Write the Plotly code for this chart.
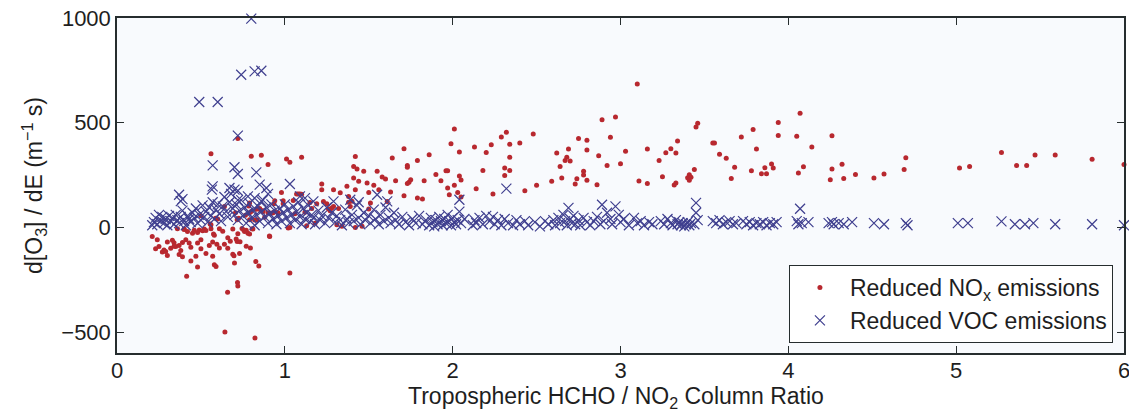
import plotly.graph_objects as go

# Reduced NOx emissions (red dots)
nox_x = [0.21,0.24,0.23,0.25,0.27,0.28,0.30,0.30,0.33,0.34,0.35,0.36,0.37,0.37,0.39,0.40,0.41,0.415,0.43,0.45,
         0.47,0.48,0.48,0.49,0.50,0.50,0.51,0.52,0.55,0.56,0.555,0.56,0.57,0.575,0.58,0.59,0.587,0.595,0.61,0.61,
         0.64,0.643,0.659,0.675,0.69,0.697,0.70,0.706,0.716,0.718,0.72,0.72,0.725,0.733,0.745,0.755,0.765,0.77,0.78,0.785,
         0.79,0.795,0.80,0.805,0.81,0.822,0.827,0.836,0.845,0.855,0.87,0.86,0.90,0.908,0.93,0.935,0.96,
         0.50,0.60,0.79,0.80,0.83,0.85,0.87,0.90,0.92,0.94,0.94,0.99,0.716,0.79,0.82,0.88,1.02,0.91,0.40,0.42,
         0.46,0.48,0.53,0.56,0.63,0.69,0.72,0.76,0.79,0.66,0.71,0.77,0.58,0.57,0.64,0.66,0.73,0.34,0.29,0.32,
         0.38,0.44,0.39,0.53,0.44,
         0.98,0.99,1.01,1.03,1.03,1.03,1.05,1.06,1.07,1.08,1.09,1.10,1.10,1.12,1.13,1.15,1.16,1.18,1.19,1.22,
         1.22,1.23,1.25,1.27,1.28,1.29,1.29,1.31,1.32,1.33,1.34,1.26,1.37,1.38,1.38,1.39,1.40,1.41,1.42,1.43,
         1.41,1.42,1.42,1.44,1.46,1.47,1.49,1.50,1.51,1.50,1.53,1.55,1.56,1.58,1.60,1.63,1.61,1.64,1.66,1.71,
         1.71,1.73,1.73,1.74,1.75,1.73,1.79,1.79,1.82,1.83,1.86,1.90,1.93,1.96,1.97,1.97,1.98,1.99,2.01,2.01,
         2.03,2.04,2.04,2.05,2.05,
         2.13,2.14,2.18,2.20,2.23,2.24,2.29,2.31,2.31,2.32,2.34,2.34,2.34,2.40,2.43,2.48,2.50,2.59,2.62,2.64,
         2.65,2.67,2.68,2.69,2.70,2.73,2.74,2.75,2.78,2.78,2.80,2.80,2.80,2.86,2.87,2.89,2.92,2.94,2.97,3.00,
         3.03,3.10,3.11,3.16,3.16,3.23,3.25,3.27,3.30,3.32,3.33,3.33,3.34,3.40,3.41,3.41,3.42,3.44,3.45,3.46,
         3.55,3.56,3.59,3.63,3.66,3.68,3.72,3.78,3.79,3.81,3.84,3.86,3.87,3.90,3.91,3.94,3.94,4.05,4.06,4.07,
         4.09,4.14,4.25,4.26,4.26,4.32,4.33,4.40,4.51,4.57,4.69,4.70,5.02,5.08,5.27,5.36,5.42,5.47,5.59,5.81,
         6.00]
nox_y = [-43,-59,-102,-91,-118,-108,-134,-70,-62,-74,-91,-6,-86,-130,-72,-8,-59,-234,-75,-28,
         -138,-189,-75,-12,-59,-102,-16,-8,-86,352,16,-6,-138,-32,-178,-187,43,-80,-6,-98,
         100,-500,-310,-66,-128,-135,-170,70,-67,-263,-280,425,43,-69,-5,-13,58,-14,-28,102,
         70,-98,340,-6,-8,-528,-163,37,-184,83,80,344,300,-41,70,113,70,
         56,40,116,76,86,90,75,70,68,75,127,127,37,37,35,48,-3,-43,-10,-20,
         -14,-25,-15,13,-19,-8,-30,-20,-32,-50,-55,-90,-38,-70,-80,-100,-125,-90,-115,-100,
         -110,-95,-140,-125,-160,
         167,113,327,311,-218,-1,128,65,160,160,160,335,158,72,8,119,90,20,113,207,
         180,123,113,80,93,180,100,13,90,165,5,88,196,148,120,100,125,291,339,279,
         236,0,180,220,5,268,212,167,117,88,201,268,180,241,231,169,124,331,223,376,
         151,295,287,215,228,210,319,140,135,223,347,252,223,271,270,188,156,400,470,201,
         167,245,360,145,226,
         384,185,272,358,395,160,432,248,284,454,272,335,397,403,175,446,201,220,355,291,
         236,319,335,374,317,207,232,424,268,250,416,370,225,204,342,514,295,430,527,304,
         363,685,222,374,210,320,242,357,376,202,212,355,413,237,225,251,240,276,480,497,
         403,403,349,330,234,287,432,271,468,374,256,285,256,303,284,501,439,435,260,545,
         290,384,228,279,438,301,233,252,236,255,276,333,284,291,358,295,295,346,346,325,
         300]

# Reduced VOC emissions (blue crosses)
voc_x = [0.80,0.74,0.82,0.86,0.49,0.60,0.72,0.57,0.70,0.72,0.83,0.57,0.565,0.67,0.70,0.72,0.85,0.89,1.03,0.37,
         0.39,0.38,0.72,0.78,0.82,0.86,0.90,1.09,1.12,1.17,1.29,1.39,1.44,1.55,1.61,
         0.21,0.22,0.23,0.24,0.25,0.26,0.27,0.28,0.29,0.30,0.31,0.32,0.33,0.34,0.35,0.36,0.37,0.38,0.39,0.40,
         0.41,0.42,0.43,0.44,0.45,0.46,0.47,0.48,0.49,0.50,0.51,0.52,0.53,0.54,0.55,0.56,0.57,0.58,0.59,0.60,
         0.61,0.62,0.63,0.64,0.65,0.66,0.67,0.68,0.69,0.70,0.71,0.72,0.73,0.74,0.75,0.76,0.77,0.78,0.79,0.80,
         0.81,0.82,0.83,0.84,0.85,0.86,0.87,0.88,0.89,0.90,0.91,0.92,0.93,0.94,0.95,0.96,0.97,0.98,0.99,1.00,
         1.01,1.02,1.03,1.04,1.05,1.06,1.07,1.08,1.09,1.10,1.11,1.12,1.13,1.14,1.15,1.16,1.17,1.18,1.20,1.21,
         1.22,1.24,1.25,1.26,1.28,1.30,1.31,1.33,1.34,1.36,1.37,1.38,1.40,1.41,1.43,1.44,1.45,1.47,1.48,1.50,
         1.51,1.53,1.54,1.56,1.57,1.59,1.60,1.62,1.63,1.65,1.66,1.68,1.70,
         1.72,1.74,1.76,1.78,1.80,1.82,1.84,1.86,1.87,1.88,1.89,1.90,1.91,1.92,1.93,1.94,1.95,1.96,1.97,1.98,
         1.99,2.00,2.01,2.02,2.03,2.04,2.04,2.05,2.07,2.12,2.13,2.14,2.16,2.18,2.20,2.22,2.24,2.25,2.27,2.29,
         2.31,2.32,2.33,2.36,2.38,2.40,2.43,2.45,2.49,2.52,2.55,2.57,2.60,2.61,2.63,2.64,2.66,2.67,2.68,2.69,
         2.70,2.71,2.72,2.73,2.75,2.76,2.78,2.80,2.82,2.84,2.86,2.88,2.89,2.90,2.92,2.94,2.95,2.97,2.99,3.00,
         3.02,3.05,3.08,3.10,3.12,3.14,3.17,3.19,3.24,3.26,3.28,3.30,3.31,3.33,3.34,3.35,3.36,3.37,3.38,3.39,
         3.40,3.41,3.42,3.44,3.45,3.45,3.46,3.55,3.57,3.59,3.61,3.63,3.65,3.67,3.69,3.73,3.75,3.77,3.79,3.81,
         3.83,3.85,3.87,3.89,3.91,3.93,
         4.05,4.06,4.07,4.08,4.12,4.24,4.26,4.27,4.30,4.33,4.38,4.51,4.57,4.70,4.71,5.01,5.07,5.27,5.35,5.41,
         5.46,5.59,5.81,6.00,6.01]
voc_y = [997,729,745,748,599,599,438,296,287,255,263,196,180,188,180,175,204,188,207,156,
         135,125,130,148,140,125,160,148,140,124,124,132,120,156,124,
         10,25,45,15,60,30,50,20,40,10,55,30,45,15,60,35,20,50,80,30,
         10,55,40,25,70,45,90,20,60,35,105,50,75,25,95,55,120,40,85,110,
         65,30,100,145,75,50,120,160,90,60,110,35,80,130,55,95,20,70,115,45,
         85,10,60,100,30,75,130,50,95,20,65,110,40,80,15,55,90,30,70,110,
         45,85,20,60,100,35,75,120,50,15,90,40,70,105,25,60,45,15,80,35,
         55,20,95,45,70,25,55,35,10,85,40,20,60,30,105,45,15,70,35,55,
         20,85,40,15,60,30,95,45,20,70,35,15,50,
         25,10,40,20,55,15,35,10,45,25,5,35,15,50,30,10,40,20,60,30,
         10,45,25,15,35,75,132,20,40,10,35,20,45,15,55,30,50,15,35,10,
         40,185,20,10,35,15,30,10,25,5,30,15,35,10,45,20,60,30,10,93,
         40,20,55,15,35,10,45,25,10,30,50,15,108,30,70,40,15,100,60,25,
         40,10,45,20,30,10,25,15,30,15,40,20,10,35,15,25,10,20,5,15,
         25,10,20,15,117,70,35,30,20,35,15,25,30,15,20,30,15,25,10,20,
         15,25,10,20,15,25,
         30,15,89,20,25,20,25,15,20,15,25,20,15,20,10,20,20,29,15,15,
         20,15,15,10,15]

x_ticks = [0, 1, 2, 3, 4, 5, 6]
y_ticks = [-500, 0, 500, 1000]
x_title = "Tropospheric HCHO / NO<sub>2</sub> Column Ratio"
y_title = "d[O<sub>3</sub>] / dE (m<sup>−1</sup> s)"

RED = "#b8282f"
BLUE = "#3f3f8f"
AXC = "#262d2e"
TXT = "#1e1e1e"
FONT = "Liberation Sans, Arial, sans-serif"
FS = 23
TFS = 22

fig = go.Figure()
fig.add_trace(go.Scatter(
    x=nox_x, y=nox_y, mode="markers", name="Reduced NO<sub>x</sub> emissions",
    marker=dict(symbol="circle", size=5, color=RED, line=dict(width=0)),
    cliponaxis=False))
fig.add_trace(go.Scatter(
    x=voc_x, y=voc_y, mode="markers", name="Reduced VOC emissions",
    marker=dict(symbol="x-thin-open", size=10, color=BLUE, line=dict(width=1.2, color=BLUE)),
    cliponaxis=False))

fig.update_layout(
    width=1129, height=412,
    margin=dict(l=117, r=5, t=18, b=59, autoexpand=False),
    paper_bgcolor="white", plot_bgcolor="#f8fafd",
    font=dict(family=FONT, size=FS, color=TXT),
    showlegend=True,
    legend=dict(x=0.989, y=0.03, xanchor="right", yanchor="bottom",
                bgcolor="white", bordercolor=AXC, borderwidth=1,
                font=dict(family=FONT, size=FS, color=TXT),
                itemwidth=50, tracegroupgap=0),
    annotations=[dict(text=x_title, xref="paper", yref="paper", x=0.5, y=0,
                      xanchor="center", yanchor="top", xshift=-5, yshift=-28,
                      showarrow=False, font=dict(family=FONT, size=FS, color=TXT))],
)
fig.update_xaxes(
    range=[0, 6], tickvals=x_ticks, ticks="inside", ticklen=7, tickcolor=AXC, tickwidth=1,
    showline=True, linecolor=AXC, linewidth=1.5, mirror="ticks", showgrid=False, zeroline=False,
    ticklabeloverflow="allow", ticklabelstandoff=-3, tickfont=dict(family=FONT, size=TFS, color=TXT),
    automargin=False)
fig.update_yaxes(
    range=[-600, 1000], tickvals=y_ticks, ticks="inside", ticklen=7, tickcolor=AXC, tickwidth=1,
    showline=True, linecolor=AXC, linewidth=1.5, mirror="ticks", showgrid=False, zeroline=False,
    ticklabeloverflow="allow", tickfont=dict(family=FONT, size=TFS, color=TXT),
    title=dict(text=y_title, standoff=12, font=dict(family=FONT, size=FS)),
    automargin=False)

fig.write_html("out.html", config={"displayModeBar": False},
               post_script="document.body.style.margin='0';document.body.style.overflow='hidden';")
